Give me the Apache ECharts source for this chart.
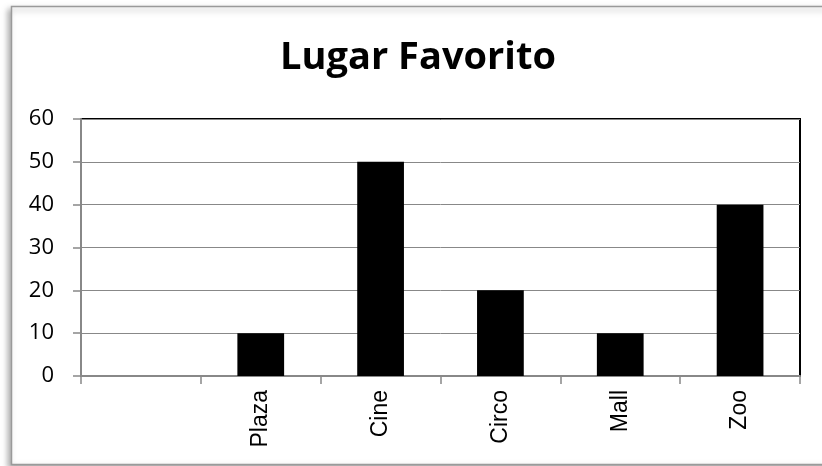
<!DOCTYPE html>
<html>
<head>
<meta charset="utf-8">
<script src="https://cdn.jsdelivr.net/npm/echarts@6/dist/echarts.min.js"></script>
<style>
  html, body { margin: 0; padding: 0; background: #fff; }
  #main { width: 822px; height: 466px; }
</style>
</head>
<body>
<div id="main"></div>
<script>
var categories = ['', 'Plaza', 'Cine', 'Circo', 'Mall', 'Zoo'];
var values = [null, 10, 50, 20, 10, 40];
var yTicks = { min: 0, max: 60, interval: 10 };

var myChart = echarts.init(document.getElementById('main'));
var option = {
  animation: false,
  graphic: [{
    type: 'rect',
    z: -10,
    shape: { x: 11.5, y: 6.5, width: 830, height: 458 },
    style: {
      fill: '#fff',
      stroke: '#9a9a9a',
      lineWidth: 1.5,
      shadowBlur: 6,
      shadowOffsetX: -3,
      shadowOffsetY: 3,
      shadowColor: 'rgba(0,0,0,0.35)'
    }
  }],
  title: {
    text: 'Lugar Favorito',
    left: 413,
    top: 34,
    textAlign: 'center',
    textStyle: {
      fontFamily: 'Open Sans',
      fontWeight: 'bold',
      fontSize: 38,
      color: '#000'
    }
  },
  grid: {
    left: 81,
    right: 22,
    top: 119,
    bottom: 90,
    show: true,
    borderColor: '#000',
    borderWidth: 2
  },
  xAxis: {
    type: 'category',
    data: categories,
    axisLine: { lineStyle: { color: '#888', width: 2 } },
    axisTick: { show: true, length: 8, alignWithLabel: false, lineStyle: { color: '#888', width: 1.5 } },
    axisLabel: {
      rotate: 90,
      interval: 0,
      margin: 14,
      fontFamily: 'Liberation Sans',
      fontSize: 23,
      color: '#000'
    }
  },
  yAxis: {
    type: 'value',
    min: yTicks.min,
    max: yTicks.max,
    interval: yTicks.interval,
    axisLine: { show: true, lineStyle: { color: '#888', width: 2 } },
    axisTick: { show: true, length: 8, lineStyle: { color: '#888', width: 1.5 } },
    splitLine: { lineStyle: { color: '#888', width: 1 } },
    axisLabel: {
      margin: 27,
      fontFamily: 'Open Sans',
      fontSize: 22,
      color: '#000'
    }
  },
  series: [{
    type: 'bar',
    data: values,
    barWidth: '39%',
    itemStyle: { color: '#000' }
  }]
};
myChart.setOption(option, true);
</script>
</body>
</html>
